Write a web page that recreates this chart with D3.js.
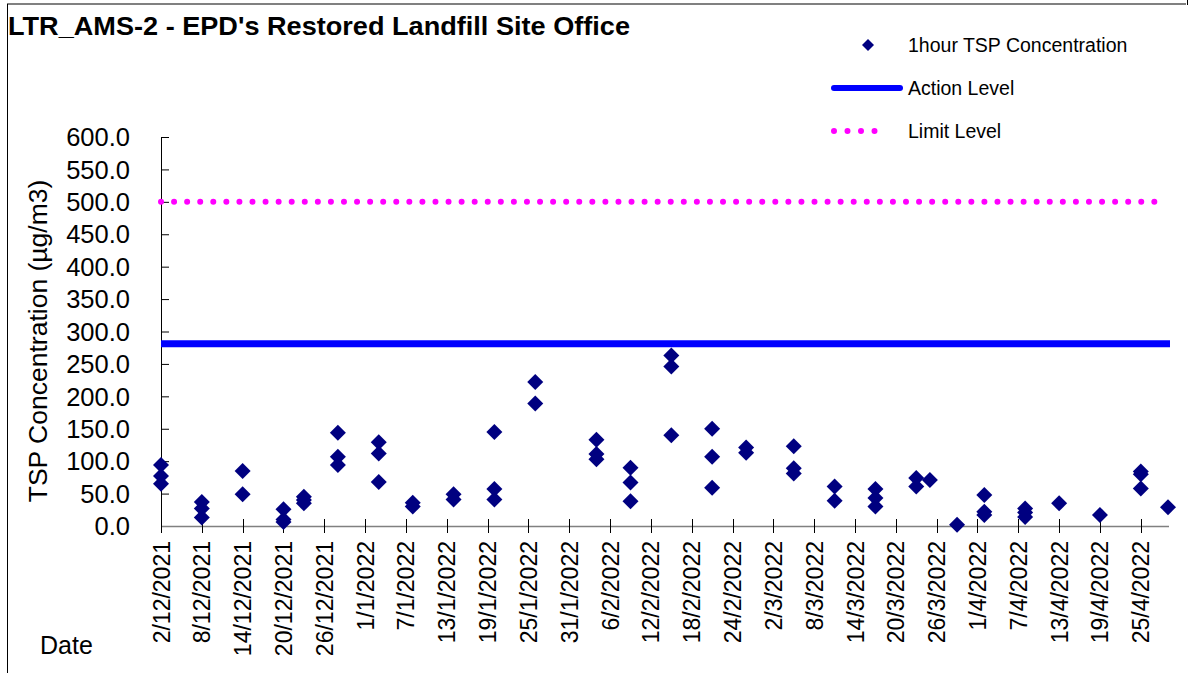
<!DOCTYPE html>
<html lang="en">
<head>
    <meta charset="UTF-8">
    <title>LTR_AMS-2 - EPD's Restored Landfill Site Office</title>
    <script src="https://d3js.org/d3.v7.min.js"></script>
    <style>
        body { margin: 0; background: #fff; }
        svg { display: block; font-family: "Liberation Sans", Arial, sans-serif; }
        .tick-y { font-size: 25.5px; }
        .tick-x { font-size: 23px; }
        .legend-text { font-size: 19.5px; }
    </style>
</head>
<body>
    <svg width="1196" height="673"></svg>

    <script>
        // sample dates and 1hour TSP readings (µg/m3)
        const sampleDates = [
            "2/12/2021", "2/12/2021", "2/12/2021",
            "8/12/2021", "8/12/2021", "8/12/2021",
            "14/12/2021", "14/12/2021",
            "20/12/2021", "20/12/2021", "20/12/2021",
            "23/12/2021", "23/12/2021", "23/12/2021",
            "28/12/2021", "28/12/2021", "28/12/2021",
            "3/1/2022", "3/1/2022", "3/1/2022",
            "8/1/2022", "8/1/2022",
            "14/1/2022", "14/1/2022",
            "20/1/2022", "20/1/2022", "20/1/2022",
            "26/1/2022", "26/1/2022",
            "4/2/2022", "4/2/2022", "4/2/2022",
            "9/2/2022", "9/2/2022", "9/2/2022",
            "15/2/2022", "15/2/2022", "15/2/2022",
            "21/2/2022", "21/2/2022", "21/2/2022",
            "26/2/2022", "26/2/2022",
            "5/3/2022", "5/3/2022", "5/3/2022",
            "11/3/2022", "11/3/2022",
            "17/3/2022", "17/3/2022", "17/3/2022",
            "23/3/2022", "23/3/2022",
            "25/3/2022",
            "29/3/2022",
            "2/4/2022", "2/4/2022", "2/4/2022",
            "8/4/2022", "8/4/2022", "8/4/2022",
            "13/4/2022",
            "19/4/2022",
            "25/4/2022", "25/4/2022", "25/4/2022",
            "29/4/2022"
        ];
        const tspValues = [
            94, 77, 65,
            37, 27, 13,
            85, 49,
            26, 10, 6,
            45, 40, 35,
            144, 107, 94,
            129, 112, 68,
            36, 30,
            49, 41,
            145, 57, 41,
            222, 189,
            133, 111, 103,
            90, 67, 38,
            263, 246, 140,
            150, 107, 59,
            121, 113,
            123, 89, 81,
            61, 39,
            57, 43, 30,
            74, 61,
            71,
            2,
            48, 22, 17,
            27, 21, 14,
            35,
            17,
            84, 80, 58,
            29
        ];

        const actionLevel = 281;
        const limitLevel = 500;

        const dateRange = ["2/12/2021", "29/4/2022"];
        const xTickLabels = [
            "2/12/2021", "8/12/2021", "14/12/2021", "20/12/2021", "26/12/2021",
            "1/1/2022", "7/1/2022", "13/1/2022", "19/1/2022", "25/1/2022", "31/1/2022",
            "6/2/2022", "12/2/2022", "18/2/2022", "24/2/2022", "2/3/2022", "8/3/2022",
            "14/3/2022", "20/3/2022", "26/3/2022", "1/4/2022", "7/4/2022", "13/4/2022",
            "19/4/2022", "25/4/2022"
        ];
        const yTicks = [0, 50, 100, 150, 200, 250, 300, 350, 400, 450, 500, 550, 600];

        const parseDate = d3.timeParse("%d/%m/%Y");
        const points = sampleDates.map((d, i) => ({ date: parseDate(d), value: tspValues[i] }));

        const svg = d3.select("svg");

        const x = d3.scaleTime()
            .domain(dateRange.map(parseDate))
            .range([161, 1168]);

        const y = d3.scaleLinear()
            .domain([0, 600])
            .range([526, 137]);

        // outer frame (top & left edges only visible)
        svg.append("line")
            .attr("x1", 7).attr("x2", 1186).attr("y1", 4).attr("y2", 4)
            .attr("stroke", "#808080").attr("stroke-width", 2);
        svg.append("line")
            .attr("x1", 7.5).attr("x2", 7.5).attr("y1", 4).attr("y2", 673)
            .attr("stroke", "#000").attr("stroke-width", 1);
        svg.append("line")
            .attr("x1", 1187.5).attr("x2", 1187.5).attr("y1", 0).attr("y2", 5)
            .attr("stroke", "#000").attr("stroke-width", 1);

        // title
        svg.append("text")
            .attr("x", 8).attr("y", 35)
            .attr("font-size", "26.5px")
            .attr("font-weight", "bold")
            .attr("textLength", 622)
            .attr("lengthAdjust", "spacingAndGlyphs")
            .text("LTR_AMS-2 - EPD's Restored Landfill Site Office");

        // y axis
        const yAxis = svg.append("g")
            .attr("transform", "translate(161,0)")
            .call(d3.axisRight(y).tickValues(yTicks).tickSize(8).tickFormat(""));
        yAxis.select(".domain").attr("stroke", "#000");
        yAxis.selectAll(".tick line").attr("stroke", "#000");

        svg.append("g")
            .selectAll("text")
            .data(yTicks)
            .join("text")
            .attr("class", "tick-y")
            .attr("x", 130)
            .attr("y", d => y(d))
            .attr("dy", "0.36em")
            .attr("text-anchor", "end")
            .text(d => d.toFixed(1));

        svg.append("text")
            .attr("transform", "translate(47,341) rotate(-90)")
            .attr("text-anchor", "middle")
            .attr("font-size", "26.5px")
            .text("TSP Concentration (µg/m3)");

        // x axis
        const xTickDates = xTickLabels.map(parseDate);
        svg.append("line")
            .attr("x1", 161).attr("x2", 1169)
            .attr("y1", 526.5).attr("y2", 526.5)
            .attr("stroke", "#808080").attr("stroke-width", 1.5);
        svg.append("g")
            .selectAll("line")
            .data(xTickDates)
            .join("line")
            .attr("x1", d => Math.round(x(d)) + 0.5)
            .attr("x2", d => Math.round(x(d)) + 0.5)
            .attr("y1", 519).attr("y2", 533)
            .attr("stroke", "#000");

        svg.append("g")
            .selectAll("text")
            .data(xTickLabels)
            .join("text")
            .attr("class", "tick-x")
            .attr("transform", (d, i) => `translate(${x(xTickDates[i]) + 8.5},541) rotate(-90)`)
            .attr("text-anchor", "end")
            .text(d => d);

        svg.append("text")
            .attr("x", 40).attr("y", 654)
            .attr("font-size", "25px")
            .text("Date");

        // level lines
        svg.append("line")
            .attr("x1", x.range()[0]).attr("x2", x.range()[1] + 2)
            .attr("y1", y(actionLevel)).attr("y2", y(actionLevel))
            .attr("stroke", "#0000ff").attr("stroke-width", 7);

        svg.append("line")
            .attr("x1", x.range()[0]).attr("x2", x.range()[1] - 10)
            .attr("y1", y(limitLevel)).attr("y2", y(limitLevel))
            .attr("stroke", "#ff00ff").attr("stroke-width", 6)
            .attr("stroke-linecap", "round")
            .attr("stroke-dasharray", "0,13.07");

        // data points
        const diamond = s => `M0,${-s}L${s},0L0,${s}L${-s},0Z`;
        svg.append("g")
            .selectAll("path")
            .data(points)
            .join("path")
            .attr("transform", d => `translate(${x(d.date)},${y(d.value)})`)
            .attr("d", diamond(8))
            .attr("fill", "#000080");

        // legend
        const legend = svg.append("g");
        legend.append("path")
            .attr("transform", "translate(868,45)")
            .attr("d", diamond(6))
            .attr("fill", "#000080");
        legend.append("line")
            .attr("x1", 834).attr("x2", 900).attr("y1", 88).attr("y2", 88)
            .attr("stroke", "#0000ff").attr("stroke-width", 6)
            .attr("stroke-linecap", "round");
        legend.append("line")
            .attr("x1", 834).attr("x2", 888).attr("y1", 131).attr("y2", 131)
            .attr("stroke", "#ff00ff").attr("stroke-width", 6)
            .attr("stroke-linecap", "round")
            .attr("stroke-dasharray", "0,13.5");

        [["1hour TSP Concentration", 45], ["Action Level", 88], ["Limit Level", 131]].forEach(([label, ly]) => {
            legend.append("text")
                .attr("class", "legend-text")
                .attr("x", 908).attr("y", ly)
                .attr("dy", "0.36em")
                .text(label);
        });
    </script>
</body>
</html>
